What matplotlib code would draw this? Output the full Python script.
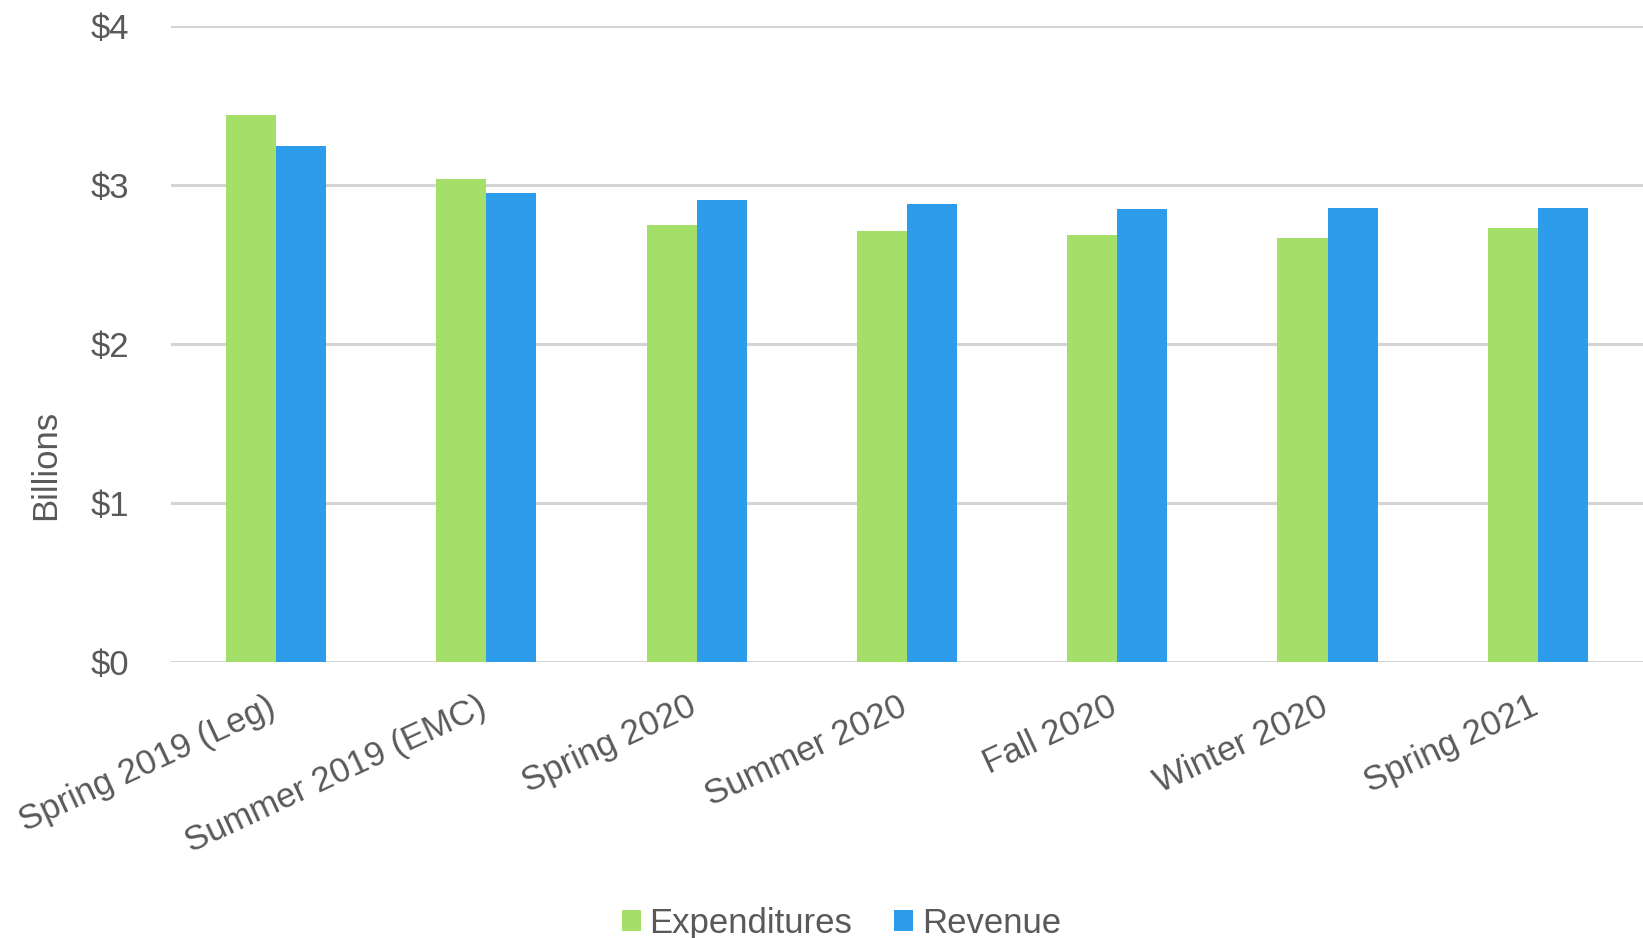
import numpy as np
import matplotlib.pyplot as plt
import matplotlib.transforms as mtransforms

plt.rcParams['font.family'] = ['Liberation Sans', 'DejaVu Sans']

categories = ["Spring 2019 (Leg)", "Summer 2019 (EMC)", "Spring 2020", "Summer 2020",
              "Fall 2020", "Winter 2020", "Spring 2021"]
expenditures = [3.44, 3.04, 2.75, 2.71, 2.69, 2.67, 2.73]
revenue = [3.25, 2.95, 2.91, 2.88, 2.85, 2.86, 2.86]
yticks = [0, 1, 2, 3, 4]
ytick_labels = ["$0", "$1", "$2", "$3", "$4"]

green = '#A4DF69'
blue = '#2D9DEB'
txt = '#595959'

fig = plt.figure(figsize=(16.43, 9.38), dpi=100)
ax = fig.add_axes([0.104, 0.294, 0.896, 0.678])

x = np.arange(len(categories))
w = 0.238
ax.bar(x - w/2, expenditures, w, color=green, label='Expenditures', zorder=3)
ax.bar(x + w/2, revenue, w, color=blue, label='Revenue', zorder=3)

ax.set_xlim(-0.5, len(categories) - 0.5)
ax.set_ylim(0, 4)
ax.set_yticks(yticks)
ax.set_yticklabels(ytick_labels)
ax.yaxis.grid(True, color='#D4D4D4', linewidth=2.2, zorder=0)
for s in ax.spines.values():
    s.set_visible(False)
ax.tick_params(axis='y', length=0, pad=30, labelsize=25, labelcolor=txt)
ax.tick_params(axis='x', length=0, pad=20, labelsize=25, labelcolor=txt)

ax.set_xticks(x)
ax.set_xticklabels(categories, rotation=25, ha='right', rotation_mode='anchor')
# nudge the slanted labels a bit to the left
shift = mtransforms.ScaledTranslation(-9/100, 0, fig.dpi_scale_trans)
for lab in ax.get_xticklabels():
    lab.set_transform(lab.get_transform() + shift)

ax.set_ylabel('Billions', fontsize=25, color=txt)
ax.yaxis.set_label_coords(-0.074, 0.311)

fig.legend(loc='lower center', bbox_to_anchor=(0.512, -0.035), ncol=2, frameon=False,
           fontsize=25, labelcolor=txt, handlelength=0.55, handleheight=0.55,
           handletextpad=0.25, columnspacing=1.2)

fig.savefig('out.png', dpi=100)
